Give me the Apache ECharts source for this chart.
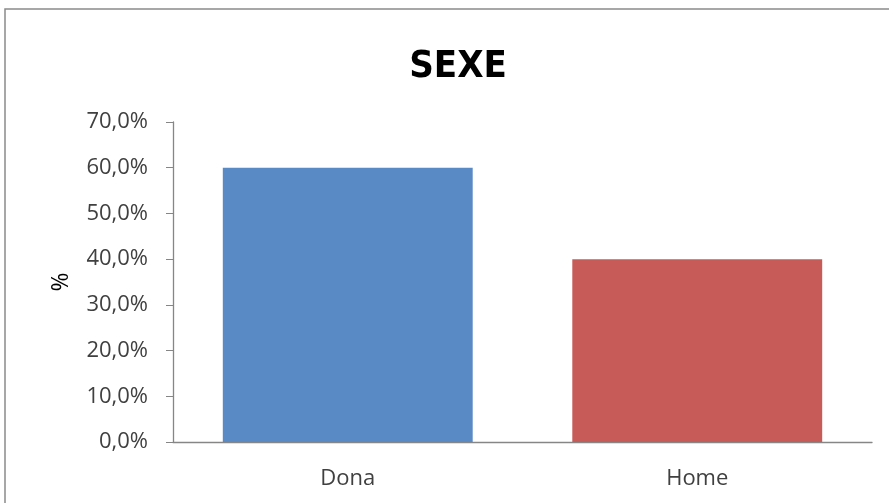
<!DOCTYPE html>
<html>
<head>
<meta charset="utf-8">
<script src="https://cdn.jsdelivr.net/npm/echarts@6/dist/echarts.min.js"></script>
<style>
html,body{margin:0;padding:0;background:#fff;}
#c{width:889px;height:503px;}
</style>
</head>
<body>
<div id="c"></div>
<script>
const categories = ['Dona', 'Home'];
const values = [60.0, 40.0];
const yTicks = { min: 0, max: 70, step: 10 };
const title = 'SEXE';
const yName = '%';

const barColors = ['#5A8AC6', '#C75B58'];
const chart = echarts.init(document.getElementById('c'));
chart.setOption({
  animation: false,
  backgroundColor: '#ffffff',
  title: {
    text: title,
    left: 453, top: 62, textAlign: 'center', textVerticalAlign: 'middle',
    textStyle: { fontFamily: 'DejaVu Sans Condensed', fontWeight: 'bold', fontSize: 38, color: '#000' }
  },
  graphic: [{
    type: 'rect', shape: { x: 5, y: 9, width: 900, height: 600 }, silent: true,
    style: { fill: 'none', stroke: '#8a8a8a', lineWidth: 1.5 }
  }],
  grid: { left: 173, right: 17, top: 122, bottom: 61, containLabel: false },
  xAxis: {
    type: 'category', data: categories,
    axisLine: { lineStyle: { color: '#868686', width: 1.3 } },
    axisTick: { show: false },
    axisLabel: { color: '#404040', fontFamily: 'Open Sans', fontSize: 22, margin: 26 }
  },
  yAxis: {
    type: 'value', min: yTicks.min, max: yTicks.max, interval: yTicks.step,
    name: yName, nameLocation: 'middle', nameGap: 100, nameRotate: 90,
    nameTextStyle: { color: '#000', fontFamily: 'Open Sans', fontSize: 23 },
    axisLine: { show: true, lineStyle: { color: '#868686', width: 1.3 } },
    axisTick: { show: true, length: 7, lineStyle: { color: '#868686' } },
    splitLine: { show: false },
    axisLabel: {
      color: '#404040', fontFamily: 'Open Sans', fontSize: 22, margin: 25,
      formatter: v => v.toFixed(1).replace('.', ',') + '%'
    }
  },
  series: [{
    type: 'bar',
    data: values.map((v, i) => ({ value: v, itemStyle: { color: barColors[i] } })),
    barCategoryGap: '28.5%'
  }]
});
</script>
</body>
</html>
